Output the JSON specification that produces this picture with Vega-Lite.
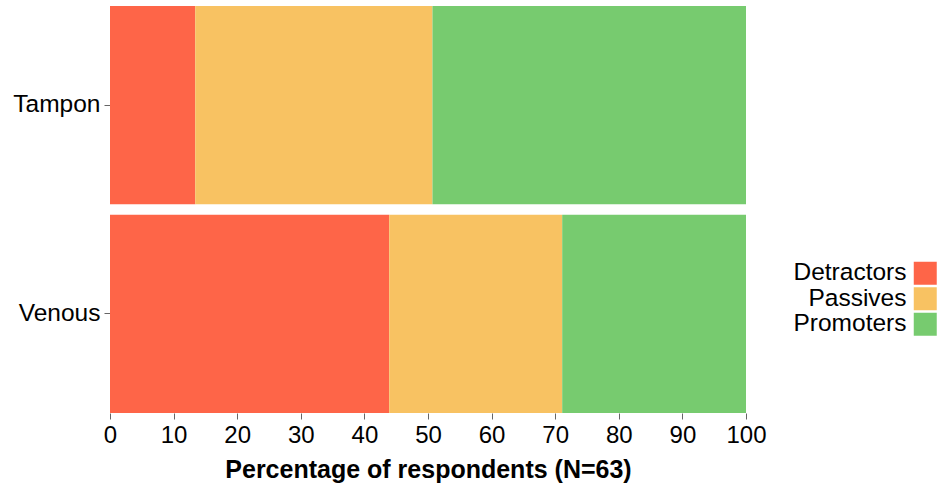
{
  "$schema": "https://vega.github.io/schema/vega-lite/v6.json",
  "autosize": {"type": "none"},
  "padding": {"left": 110, "top": 6, "right": 195, "bottom": 75},
  "width": 636,
  "height": 407,
  "background": "white",
  "config": {
    "view": {"stroke": null},
    "font": "Liberation Sans",
    "axis": {"labelFont": "Liberation Sans", "titleFont": "Liberation Sans"},
    "legend": {"labelFont": "Liberation Sans"}
  },
  "data": {
    "values": [
      {"method": "Tampon", "category": "Detractors", "pct": 13.4},
      {"method": "Tampon", "category": "Passives", "pct": 37.3},
      {"method": "Tampon", "category": "Promoters", "pct": 49.3},
      {"method": "Venous", "category": "Detractors", "pct": 43.9},
      {"method": "Venous", "category": "Passives", "pct": 27.2},
      {"method": "Venous", "category": "Promoters", "pct": 28.9}
    ]
  },
  "mark": {"type": "bar", "strokeWidth": 0},
  "encoding": {
    "y": {
      "field": "method",
      "type": "nominal",
      "scale": {"paddingInner": 0.05, "paddingOuter": 0},
      "axis": {
        "title": null,
        "domain": false,
        "tickSize": 6,
        "tickColor": "#666",
        "labelFontSize": 24.5,
        "labelColor": "#000",
        "labelPadding": 4
      }
    },
    "x": {
      "field": "pct",
      "type": "quantitative",
      "stack": "zero",
      "scale": {"domain": [0, 100], "nice": false},
      "axis": {
        "title": "Percentage of respondents (N=63)",
        "values": [0, 10, 20, 30, 40, 50, 60, 70, 80, 90, 100],
        "grid": false,
        "domain": false,
        "tickSize": 6,
        "tickColor": "#666",
        "labelFontSize": 24,
        "labelColor": "#000",
        "labelPadding": 4,
        "labelFlush": false,
        "titleFontSize": 25,
        "titleFontWeight": "bold",
        "titleColor": "#000",
        "titlePadding": 10
      }
    },
    "color": {
      "field": "category",
      "type": "nominal",
      "scale": {
        "domain": ["Detractors", "Passives", "Promoters"],
        "range": ["#fe6548", "#f8c262", "#77cb6f"]
      },
      "legend": {
        "title": null,
        "orient": "none",
        "legendX": 803,
        "legendY": 255,
        "padding": 0,
        "symbolType": "square",
        "symbolSize": 529,
        "symbolStrokeWidth": 0,
        "symbolOpacity": 1,
        "labelFontSize": 24.5,
        "labelColor": "#000",
        "labelAlign": "right",
        "labelOffset": -31,
        "rowPadding": 0.5
      }
    }
  }
}
